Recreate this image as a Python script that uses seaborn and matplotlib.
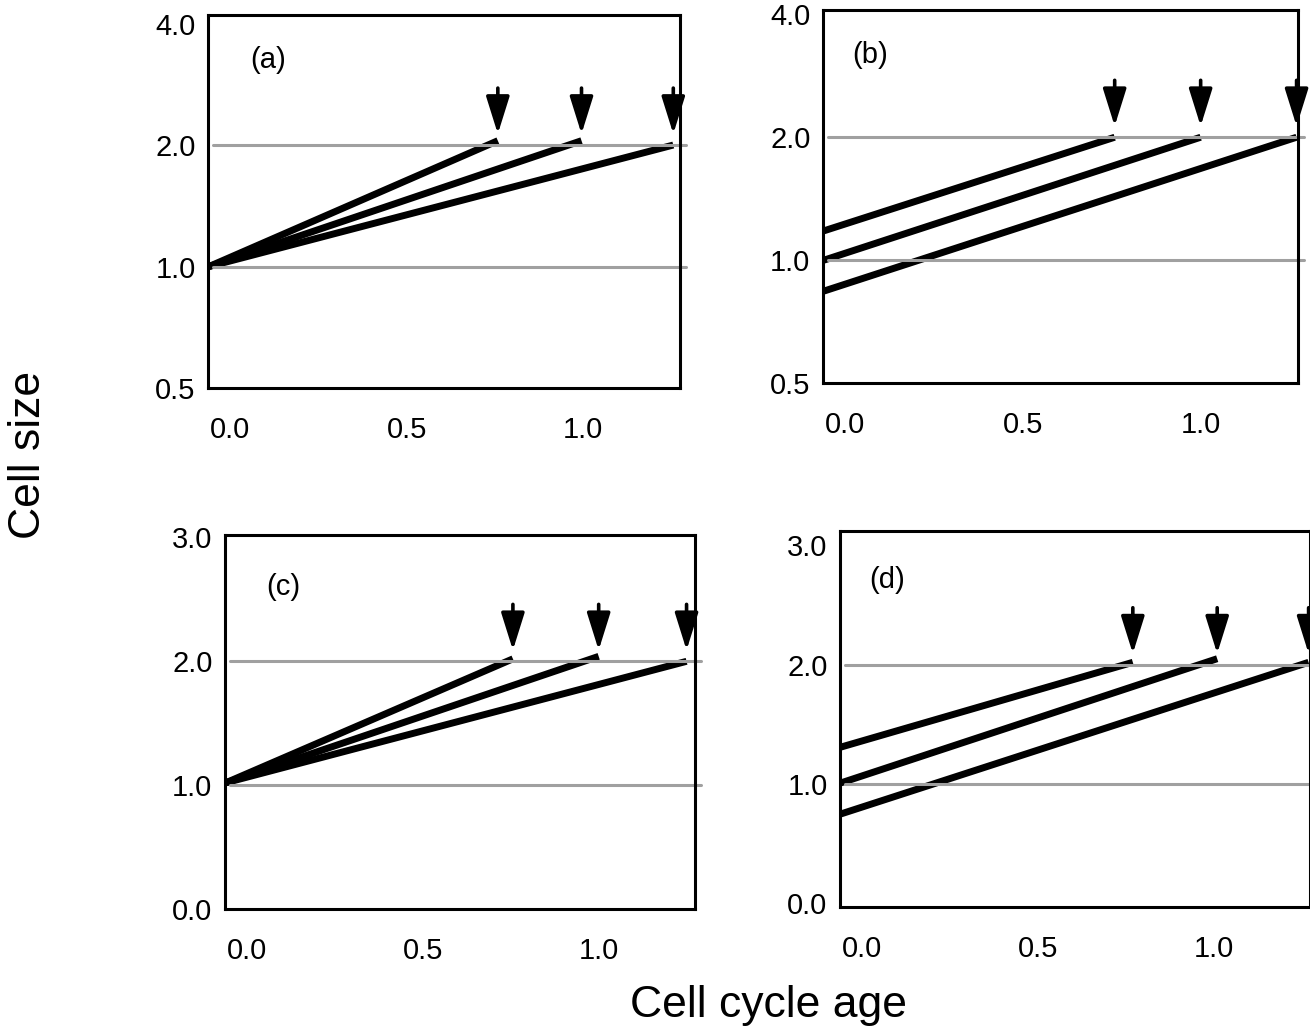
import numpy as np
import pandas as pd
import matplotlib
matplotlib.use('Agg')
import matplotlib.pyplot as plt
import seaborn as sns

# ---- data ----
birth_age = -0.06
panel_names = ['(a)', '(b)', '(c)', '(d)']

# division ages of the three cells in each panel
div_age_a = [0.758, 0.995, 1.255]
div_age_b = [0.758, 1.0, 1.27]
div_age_c = [0.756, 1.0, 1.25]
div_age_d = [0.77, 1.01, 1.27]

# size at birth
birth_size_a = [1.0, 1.0, 1.0]
birth_size_b = [1.18, 1.0, 0.84]
birth_size_c = [1.02, 1.02, 1.02]
birth_size_d = [1.31, 1.01, 0.75]

# size at division
div_size_a = [2.05, 2.05, 2.0]
div_size_b = [2.0, 2.0, 2.0]
div_size_c = [2.02, 2.04, 2.0]
div_size_d = [2.02, 2.05, 2.02]

ref_sizes = [1.0, 2.0]

x_ticks = [0.0, 0.5, 1.0]
x_tick_labels = ['0.0', '0.5', '1.0']
y_ticks_log = [0.5, 1.0, 2.0, 4.0]
y_ticks_lin = [0.0, 1.0, 2.0, 3.0]
y_tick_labels_log = ['0.5', '1.0', '2.0', '4.0']
y_tick_labels_lin = ['0.0', '1.0', '2.0', '3.0']

sns.set_style('white')
plt.rcParams['font.family'] = ['Liberation Sans', 'DejaVu Sans']
plt.rcParams['text.color'] = 'black'
plt.rcParams['xtick.color'] = 'black'
plt.rcParams['ytick.color'] = 'black'

W, H = 1310, 1032
fig = plt.figure(figsize=(W / 100, H / 100), dpi=100)


def px_axes(left, top, right, bottom):
    return fig.add_axes([left / W, 1 - bottom / H, (right - left) / W, (bottom - top) / H])


panels = [
    dict(ax=px_axes(208, 15, 680, 388), ages=div_age_a, b=birth_size_a, d=div_size_a,
         log=True, ylim=(0.5, 4.2), lab=(0.127, 0.88)),
    dict(ax=px_axes(823, 10, 1298, 383), ages=div_age_b, b=birth_size_b, d=div_size_b,
         log=True, ylim=(0.5, 4.1), lab=(0.10, 0.88)),
    dict(ax=px_axes(225, 535, 695, 909), ages=div_age_c, b=birth_size_c, d=div_size_c,
         log=False, ylim=(0.0, 3.02), lab=(0.125, 0.86)),
    dict(ax=px_axes(840, 531, 1310, 907), ages=div_age_d, b=birth_size_d, d=div_size_d,
         log=False, ylim=(-0.03, 3.12), lab=(0.10, 0.87)),
]

for name, p in zip(panel_names, panels):
    ax = p['ax']
    rows = []
    for i, (t, s0, s1) in enumerate(zip(p['ages'], p['b'], p['d'])):
        rows.append({'cell': i, 'age': birth_age, 'size': s0})
        rows.append({'cell': i, 'age': t, 'size': s1})
    df = pd.DataFrame(rows)

    if p['log']:
        ax.set_yscale('log', base=2)
    sns.lineplot(data=df, x='age', y='size', units='cell', estimator=None, sort=False,
                 color='black', lw=5, ax=ax, legend=False, zorder=2,
                 solid_capstyle='butt', clip_on=False)

    for r in ref_sizes:
        ax.axhline(r, xmin=0.01, xmax=1.012, color='#a0a0a0', lw=2.2, zorder=3, clip_on=False)

    # division arrows
    for t in p['ages']:
        ax.annotate('', xy=(t, 2.0), xytext=(0, 41), textcoords='offset points',
                    arrowprops=dict(arrowstyle='-|>,head_length=2.3,head_width=0.72',
                                    mutation_scale=10, shrinkA=0, shrinkB=8,
                                    lw=2.6, color='black'),
                    annotation_clip=False)

    ax.set_xlim(-0.063, 1.274)
    ax.set_ylim(*p['ylim'])
    ax.set_xticks(x_ticks)
    ax.set_xticklabels(x_tick_labels)
    if p['log']:
        ax.set_yticks(y_ticks_log)
        ax.set_yticklabels(y_tick_labels_log)
        ax.yaxis.set_minor_locator(matplotlib.ticker.NullLocator())
    else:
        ax.set_yticks(y_ticks_lin)
        ax.set_yticklabels(y_tick_labels_lin)
    ax.tick_params(axis='x', length=0, pad=20, labelsize=21)
    ax.tick_params(axis='y', length=0, pad=9, labelsize=21)
    ax.set_xlabel('')
    ax.set_ylabel('')
    for sp in ax.spines.values():
        sp.set_visible(True)
        sp.set_color('black')
        sp.set_linewidth(2.2)
        sp.set_zorder(4)
    ax.text(p['lab'][0], p['lab'][1], name, transform=ax.transAxes,
            ha='center', va='center', fontsize=21)

fig.text(28 / W, 1 - 455 / H, 'Cell size', rotation=90, ha='center', va='center', fontsize=32)
fig.text(768 / W, 1 - 1005 / H, 'Cell cycle age', ha='center', va='center', fontsize=32)

fig.savefig('out.png', dpi=100)
